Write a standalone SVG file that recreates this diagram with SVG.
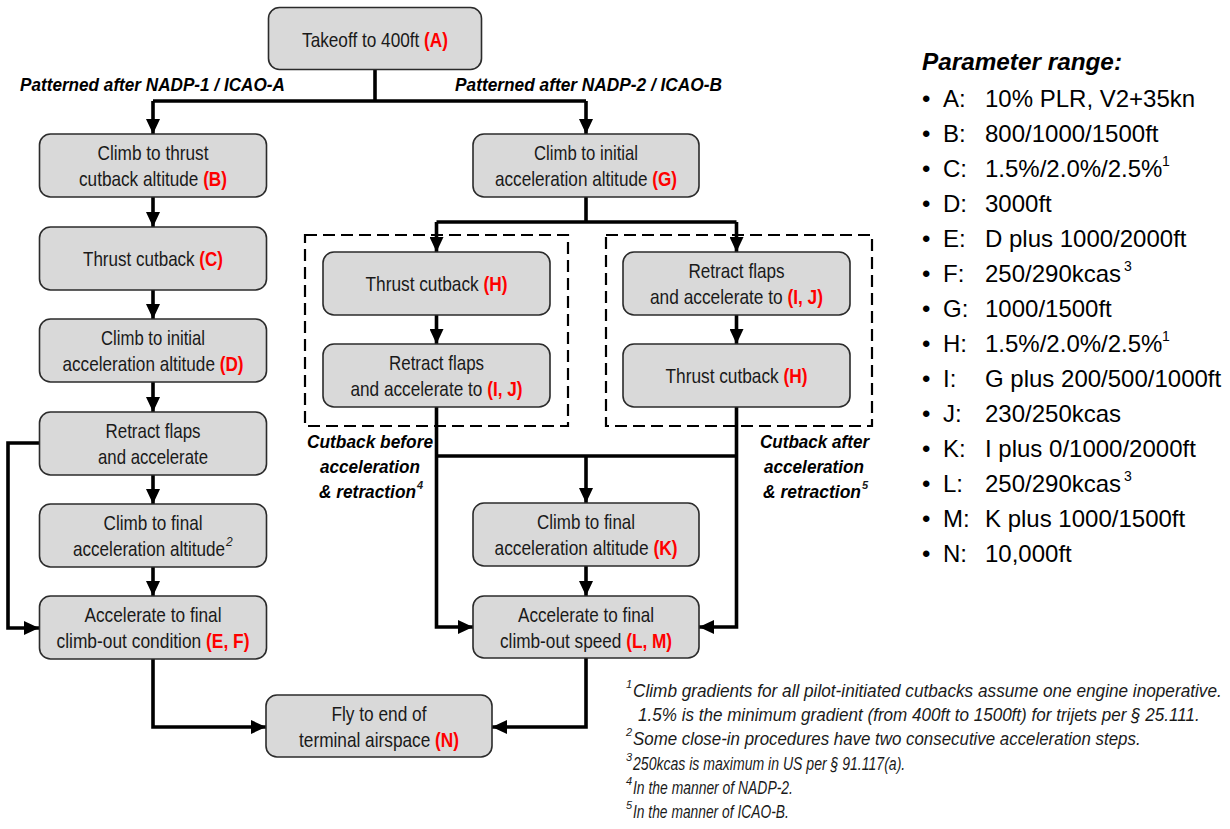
<svg xmlns="http://www.w3.org/2000/svg" width="1230" height="829" viewBox="0 0 1230 829">
<defs>
<style>
.box{fill:#d9d9d9;stroke:#2b2b2b;stroke-width:1.6}
.t{font-family:"Liberation Sans",Arial,sans-serif;font-size:21px;fill:#1a1a1a;text-anchor:middle}
.r{fill:#ff0000;font-weight:bold}
.sup{font-family:"Liberation Sans",Arial,sans-serif;font-size:12px;fill:#1a1a1a;font-style:italic}
.lbl{font-family:"Liberation Sans",Arial,sans-serif;font-size:19px;font-weight:bold;font-style:italic;fill:#000}
.m{text-anchor:middle}
.c{fill:none;stroke:#000;stroke-width:3.6;stroke-linejoin:miter}
.dash{fill:none;stroke:#000;stroke-width:2.2;stroke-dasharray:12 6}
.fn{font-family:"Liberation Sans",Arial,sans-serif;font-size:19px;font-style:italic;fill:#1a1a1a}
.fs{font-family:"Liberation Sans",Arial,sans-serif;font-size:11px;font-style:italic;fill:#1a1a1a}
.ph{font-family:"Liberation Sans",Arial,sans-serif;font-size:24px;font-weight:bold;font-style:italic;fill:#000}
.p{font-family:"Liberation Sans",Arial,sans-serif;font-size:24px;fill:#000}
.ps{font-family:"Liberation Sans",Arial,sans-serif;font-size:14px;fill:#000}
</style>
<marker id="ah" markerUnits="userSpaceOnUse" markerWidth="16" markerHeight="14" refX="15" refY="7" orient="auto">
<path d="M0,0 L15,7 L0,14 z" fill="#000"/>
</marker>
</defs>
<rect width="1230" height="829" fill="#fff"/>

<g id="connectors">
<path class="c" d="M375,69 V101"/>
<path class="c" d="M153,101 H586"/>
<path class="c" d="M153,101 V134" marker-end="url(#ah)"/>
<path class="c" d="M586,101 V134" marker-end="url(#ah)"/>
<path class="c" d="M153,197 V227" marker-end="url(#ah)"/>
<path class="c" d="M153,290 V319" marker-end="url(#ah)"/>
<path class="c" d="M153,382 V412" marker-end="url(#ah)"/>
<path class="c" d="M153,475 V504" marker-end="url(#ah)"/>
<path class="c" d="M153,567 V596" marker-end="url(#ah)"/>
<path class="c" d="M39,443 H8 V628 H39" marker-end="url(#ah)"/>
<path class="c" d="M586,197 V222"/>
<path class="c" d="M436.5,222 H736.5"/>
<path class="c" d="M436.5,222 V252" marker-end="url(#ah)"/>
<path class="c" d="M736.5,222 V252" marker-end="url(#ah)"/>
<path class="c" d="M436.5,315 V344" marker-end="url(#ah)"/>
<path class="c" d="M736.5,315 V344" marker-end="url(#ah)"/>
<path class="c" d="M436.5,407 V627 H473" marker-end="url(#ah)"/>
<path class="c" d="M736.5,407 V627 H699" marker-end="url(#ah)"/>
<path class="c" d="M436.5,456 H736.5"/>
<path class="c" d="M586,456 V503" marker-end="url(#ah)"/>
<path class="c" d="M586,566 V596" marker-end="url(#ah)"/>
<path class="c" d="M153,659 V727 H266" marker-end="url(#ah)"/>
<path class="c" d="M586,658 V727 H492" marker-end="url(#ah)"/>
</g>

<g id="groups">
<rect class="dash" x="305" y="235" width="263" height="191"/>
<rect class="dash" x="606" y="235" width="266" height="191"/>
<text class="lbl m" transform="translate(370,448) scale(0.82,1)" textLength="153.7" lengthAdjust="spacingAndGlyphs">Cutback before</text>
<text class="lbl m" transform="translate(370,473) scale(0.82,1)" textLength="122" lengthAdjust="spacingAndGlyphs">acceleration</text>
<text class="lbl" transform="translate(319,498) scale(0.82,1)" textLength="118.3" lengthAdjust="spacingAndGlyphs">&amp; retraction</text>
<text class="fs" x="417" y="489" font-weight="bold">4</text>
<text class="lbl m" transform="translate(814.5,448) scale(0.82,1)" textLength="133" lengthAdjust="spacingAndGlyphs">Cutback after</text>
<text class="lbl m" transform="translate(814,473) scale(0.82,1)" textLength="122" lengthAdjust="spacingAndGlyphs">acceleration</text>
<text class="lbl" transform="translate(763,498) scale(0.82,1)" textLength="119.5" lengthAdjust="spacingAndGlyphs">&amp; retraction</text>
<text class="fs" x="862" y="489" font-weight="bold">5</text>
</g>

<g id="labels">
<text class="lbl" transform="translate(20,91) scale(0.82,1)" textLength="323" lengthAdjust="spacingAndGlyphs">Patterned after NADP-1 / ICAO-A</text>
<text class="lbl" transform="translate(455,91) scale(0.82,1)" textLength="325.6" lengthAdjust="spacingAndGlyphs">Patterned after NADP-2 / ICAO-B</text>
</g>

<g id="node-A">
<rect class="box" x="268.5" y="7.5" width="213" height="62" rx="11"/>
<text class="t" transform="translate(375,47) scale(0.82,1)" textLength="178" lengthAdjust="spacingAndGlyphs">Takeoff to 400ft <tspan class="r">(A)</tspan></text>
</g>
<g id="node-B">
<rect class="box" x="39.5" y="134" width="227" height="63" rx="11"/>
<text class="t" transform="translate(153,160) scale(0.82,1)" textLength="135.4" lengthAdjust="spacingAndGlyphs">Climb to thrust</text>
<text class="t" transform="translate(153,185.5) scale(0.82,1)" textLength="180.5" lengthAdjust="spacingAndGlyphs">cutback altitude <tspan class="r">(B)</tspan></text>
</g>
<g id="node-C">
<rect class="box" x="39.5" y="227" width="227" height="63" rx="11"/>
<text class="t" transform="translate(153,266) scale(0.82,1)" textLength="170.7" lengthAdjust="spacingAndGlyphs">Thrust cutback <tspan class="r">(C)</tspan></text>
</g>
<g id="node-D">
<rect class="box" x="39.5" y="319" width="227" height="63" rx="11"/>
<text class="t" transform="translate(153,345) scale(0.82,1)" textLength="126.8" lengthAdjust="spacingAndGlyphs">Climb to initial</text>
<text class="t" transform="translate(153,370.5) scale(0.82,1)" textLength="220.7" lengthAdjust="spacingAndGlyphs">acceleration altitude <tspan class="r">(D)</tspan></text>
</g>
<g id="node-retract1">
<rect class="box" x="39.5" y="412" width="227" height="63" rx="11"/>
<text class="t" transform="translate(153,438) scale(0.82,1)" textLength="115.9" lengthAdjust="spacingAndGlyphs">Retract flaps</text>
<text class="t" transform="translate(153,463.5) scale(0.82,1)" textLength="134.1" lengthAdjust="spacingAndGlyphs">and accelerate</text>
</g>
<g id="node-final1">
<rect class="box" x="39.5" y="504" width="227" height="63" rx="11"/>
<text class="t" transform="translate(153,530) scale(0.82,1)" textLength="120.7" lengthAdjust="spacingAndGlyphs">Climb to final</text>
<text class="t" transform="translate(149,555.5) scale(0.82,1)" textLength="185.4" lengthAdjust="spacingAndGlyphs">acceleration altitude</text>
<text class="sup" x="226" y="546">2</text>
</g>
<g id="node-EF">
<rect class="box" x="39.5" y="596" width="227" height="63" rx="11"/>
<text class="t" transform="translate(153,622) scale(0.82,1)" textLength="167.1" lengthAdjust="spacingAndGlyphs">Accelerate to final</text>
<text class="t" transform="translate(153,647.5) scale(0.82,1)" textLength="235.4" lengthAdjust="spacingAndGlyphs">climb-out condition <tspan class="r">(E, F)</tspan></text>
</g>
<g id="node-G">
<rect class="box" x="473" y="134" width="226" height="63" rx="11"/>
<text class="t" transform="translate(586,160) scale(0.82,1)" textLength="126.8" lengthAdjust="spacingAndGlyphs">Climb to initial</text>
<text class="t" transform="translate(586,185.5) scale(0.82,1)" textLength="222" lengthAdjust="spacingAndGlyphs">acceleration altitude <tspan class="r">(G)</tspan></text>
</g>
<g id="node-H1">
<rect class="box" x="323" y="252" width="227" height="63" rx="11"/>
<text class="t" transform="translate(436.5,291) scale(0.82,1)" textLength="173.2" lengthAdjust="spacingAndGlyphs">Thrust cutback <tspan class="r">(H)</tspan></text>
</g>
<g id="node-IJ1">
<rect class="box" x="323" y="344" width="227" height="63" rx="11"/>
<text class="t" transform="translate(436.5,370) scale(0.82,1)" textLength="115.9" lengthAdjust="spacingAndGlyphs">Retract flaps</text>
<text class="t" transform="translate(436.5,395.5) scale(0.82,1)" textLength="209.8" lengthAdjust="spacingAndGlyphs">and accelerate to <tspan class="r">(I, J)</tspan></text>
</g>
<g id="node-IJ2">
<rect class="box" x="623" y="252" width="227" height="63" rx="11"/>
<text class="t" transform="translate(736.5,278) scale(0.82,1)" textLength="117.1" lengthAdjust="spacingAndGlyphs">Retract flaps</text>
<text class="t" transform="translate(736.5,303.5) scale(0.82,1)" textLength="211" lengthAdjust="spacingAndGlyphs">and accelerate to <tspan class="r">(I, J)</tspan></text>
</g>
<g id="node-H2">
<rect class="box" x="623" y="344" width="227" height="63" rx="11"/>
<text class="t" transform="translate(736.5,383) scale(0.82,1)" textLength="173.2" lengthAdjust="spacingAndGlyphs">Thrust cutback <tspan class="r">(H)</tspan></text>
</g>
<g id="node-K">
<rect class="box" x="473" y="503" width="226" height="63" rx="11"/>
<text class="t" transform="translate(586,529) scale(0.82,1)" textLength="119.5" lengthAdjust="spacingAndGlyphs">Climb to final</text>
<text class="t" transform="translate(586,554.5) scale(0.82,1)" textLength="223.2" lengthAdjust="spacingAndGlyphs">acceleration altitude <tspan class="r">(K)</tspan></text>
</g>
<g id="node-LM">
<rect class="box" x="473" y="596" width="226" height="62" rx="11"/>
<text class="t" transform="translate(586,622) scale(0.82,1)" textLength="165.9" lengthAdjust="spacingAndGlyphs">Accelerate to final</text>
<text class="t" transform="translate(586,647.5) scale(0.82,1)" textLength="209.8" lengthAdjust="spacingAndGlyphs">climb-out speed <tspan class="r">(L, M)</tspan></text>
</g>
<g id="node-N">
<rect class="box" x="266" y="695" width="226" height="62" rx="11"/>
<text class="t" transform="translate(379,721) scale(0.82,1)" textLength="115.9" lengthAdjust="spacingAndGlyphs">Fly to end of</text>
<text class="t" transform="translate(379,746.5) scale(0.82,1)" textLength="195.1" lengthAdjust="spacingAndGlyphs">terminal airspace <tspan class="r">(N)</tspan></text>
</g>

<g id="parameters">
<text class="ph" x="922" y="70" textLength="200" lengthAdjust="spacingAndGlyphs">Parameter range:</text>
<g class="p">
<text x="922" y="107">•</text><text x="943" y="107">A:</text><text x="985" y="107">10% PLR, V2+35kn</text>
<text x="922" y="142">•</text><text x="943" y="142">B:</text><text x="985" y="142">800/1000/1500ft</text>
<text x="922" y="177">•</text><text x="943" y="177">C:</text><text x="985" y="177">1.5%/2.0%/2.5%</text><text class="ps" x="1162" y="166">1</text>
<text x="922" y="212">•</text><text x="943" y="212">D:</text><text x="985" y="212">3000ft</text>
<text x="922" y="247">•</text><text x="943" y="247">E:</text><text x="985" y="247">D plus 1000/2000ft</text>
<text x="922" y="282">•</text><text x="943" y="282">F:</text><text x="985" y="282">250/290kcas</text><text class="ps" x="1124" y="271">3</text>
<text x="922" y="317">•</text><text x="943" y="317">G:</text><text x="985" y="317">1000/1500ft</text>
<text x="922" y="352">•</text><text x="943" y="352">H:</text><text x="985" y="352">1.5%/2.0%/2.5%</text><text class="ps" x="1162" y="341">1</text>
<text x="922" y="387">•</text><text x="943" y="387">I:</text><text x="985" y="387">G plus 200/500/1000ft</text>
<text x="922" y="422">•</text><text x="943" y="422">J:</text><text x="985" y="422">230/250kcas</text>
<text x="922" y="457">•</text><text x="943" y="457">K:</text><text x="985" y="457">I plus 0/1000/2000ft</text>
<text x="922" y="492">•</text><text x="943" y="492">L:</text><text x="985" y="492">250/290kcas</text><text class="ps" x="1124" y="481">3</text>
<text x="922" y="527">•</text><text x="943" y="527">M:</text><text x="985" y="527">K plus 1000/1500ft</text>
<text x="922" y="562">•</text><text x="943" y="562">N:</text><text x="985" y="562">10,000ft</text>
</g>
</g>

<g id="footnotes">
<text class="fs" x="626" y="688">1</text>
<text class="fn" transform="translate(633,697) scale(0.82,1)" textLength="718" lengthAdjust="spacingAndGlyphs">Climb gradients for all pilot-initiated cutbacks assume one engine inoperative.</text>
<text class="fn" transform="translate(638,721) scale(0.82,1)" textLength="685" lengthAdjust="spacingAndGlyphs">1.5% is the minimum gradient (from 400ft to 1500ft) for trijets per § 25.111.</text>
<text class="fs" x="626" y="736">2</text>
<text class="fn" transform="translate(633,745) scale(0.82,1)" textLength="619" lengthAdjust="spacingAndGlyphs">Some close-in procedures have two consecutive acceleration steps.</text>
<text class="fs" x="626" y="761">3</text>
<text class="fn" transform="translate(633,770) scale(0.82,1)" textLength="332" lengthAdjust="spacingAndGlyphs">250kcas is maximum in US per § 91.117(a).</text>
<text class="fs" x="626" y="785">4</text>
<text class="fn" transform="translate(633,794) scale(0.82,1)" textLength="195" lengthAdjust="spacingAndGlyphs">In the manner of NADP-2.</text>
<text class="fs" x="626" y="809">5</text>
<text class="fn" transform="translate(633,818) scale(0.82,1)" textLength="190" lengthAdjust="spacingAndGlyphs">In the manner of ICAO-B.</text>
</g>
</svg>
